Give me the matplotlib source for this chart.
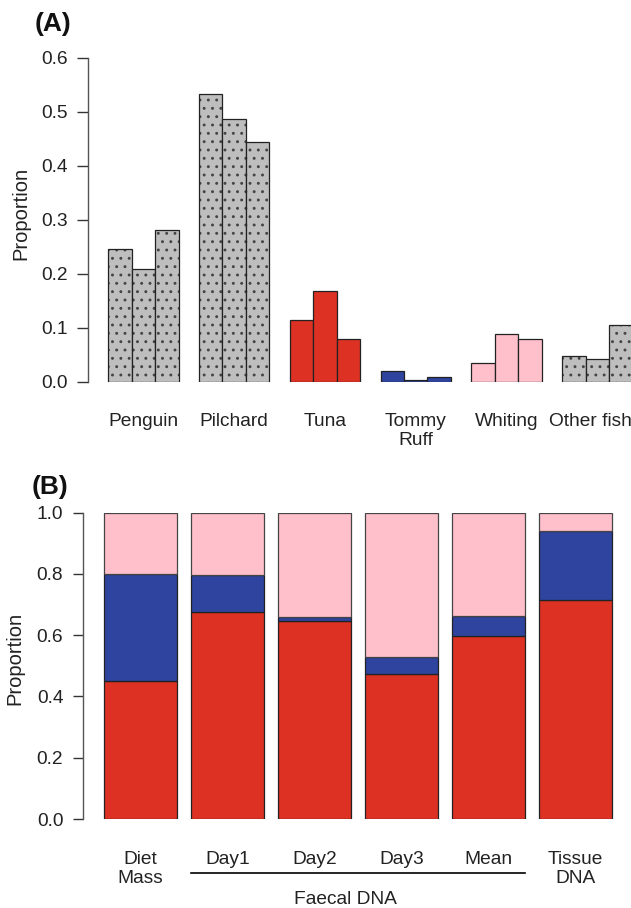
import matplotlib
matplotlib.use("Agg")
import matplotlib.pyplot as plt
import matplotlib.transforms as mtransforms
import numpy as np

plt.rcParams['font.family'] = ['Liberation Sans', 'DejaVu Sans']
plt.rcParams['hatch.linewidth'] = 0.9

# panel A: proportion of each prey, three faecal samples per prey
prey = ['Penguin', 'Pilchard', 'Tuna', 'Tommy\nRuff', 'Whiting', 'Other fish']
day1 = [0.247, 0.534, 0.114, 0.020, 0.036, 0.049]
day2 = [0.209, 0.487, 0.169, 0.004, 0.089, 0.043]
day3 = [0.282, 0.444, 0.080, 0.010, 0.079, 0.105]
a_ticks = [0.0, 0.1, 0.2, 0.3, 0.4, 0.5, 0.6]

# panel B: stacked composition (tuna / tommy ruff / whiting)
sources = ['Diet\nMass', 'Day1', 'Day2', 'Day3', 'Mean', 'Tissue\nDNA']
tuna = [0.452, 0.677, 0.645, 0.472, 0.599, 0.716]
tommy = [0.349, 0.121, 0.016, 0.058, 0.065, 0.223]
whiting = [0.199, 0.202, 0.339, 0.470, 0.336, 0.061]
b_ticks = [0.0, 0.2, 0.4, 0.6, 0.8, 1.0]

RED = '#DD3124'
BLUE = '#2E449F'
PINK = '#FFC0CB'
GREY = '#BEBEBE'
prey_col = [GREY, GREY, RED, BLUE, PINK, GREY]
prey_hatch = ['..', '..', None, None, None, '..']

FS = 13.8
W, H = 631, 908
fig = plt.figure(figsize=(W / 100, H / 100), dpi=100)


def px_axes(left, top, right, bottom):
    return fig.add_axes([left / W, 1 - bottom / H, (right - left) / W, (bottom - top) / H])


def style_axis(ax, ticks, tlen, tpad, xpad):
    for s in ['top', 'right', 'bottom']:
        ax.spines[s].set_visible(False)
    ax.spines['left'].set_color('#555555')
    ax.spines['left'].set_linewidth(1.0)
    ax.set_yticks(ticks)
    ax.set_yticklabels(['%.1f' % t for t in ticks])
    ax.tick_params(axis='y', length=tlen, width=1.0, color='#333333', pad=tpad,
                   labelsize=FS, labelcolor='#222222')
    ax.tick_params(axis='x', length=0, pad=xpad, labelsize=FS, labelcolor='#222222')


# ---- panel A ----
axA = px_axes(88, 58, 631, 382)
gap = 0.88
series = [day1, day2, day3]
for g in range(len(prey)):
    for j, s in enumerate(series):
        x0 = g * (3 + gap) + j
        if prey_hatch[g]:
            # dotted fill, dots in dark grey
            axA.bar(x0, s[g], width=1, align='edge', color=prey_col[g],
                    edgecolor='#444444', linewidth=0, hatch=prey_hatch[g])
            axA.bar(x0, s[g], width=1, align='edge', fill=False,
                    edgecolor='#222222', linewidth=0.9)
        else:
            axA.bar(x0, s[g], width=1, align='edge', color=prey_col[g],
                    edgecolor='#222222', linewidth=0.9)
axA.set_xlim(-0.868, 22.34)
axA.set_ylim(0, 0.6)
axA.set_xticks([g * (3 + gap) + 1.5 for g in range(len(prey))])
axA.set_xticklabels(prey, linespacing=1.2)
style_axis(axA, a_ticks, 8, 6.5, 22)
# last label sits against the right edge, nudge it in a bit
last = axA.get_xticklabels()[-1]
last.set_transform(last.get_transform() +
                   mtransforms.ScaledTranslation(-0.07, 0, fig.dpi_scale_trans))

# ---- panel B ----
axB = px_axes(83.3, 512.7, 631, 819)
xs = np.arange(len(sources)) * 1.2
bottom2 = np.array(tuna) + np.array(tommy)
axB.bar(xs, tuna, width=1, align='edge', color=RED, edgecolor='#222222', linewidth=0.9)
axB.bar(xs, tommy, width=1, align='edge', bottom=tuna, color=BLUE,
        edgecolor='#222222', linewidth=0.9)
axB.bar(xs, whiting, width=1, align='edge', bottom=bottom2, color=PINK,
        edgecolor='#444444', linewidth=0.9)
axB.set_xlim(-0.29, 7.265)
axB.set_ylim(0, 1.0)
axB.set_xticks(xs + 0.5)
axB.set_xticklabels(sources, linespacing=1.15)
style_axis(axB, b_ticks, 7.2, 7.2, 23)

# bracket for the faecal DNA samples
axB.plot([xs[1], xs[4] + 1], [-0.177, -0.177], color='black', lw=1.2, clip_on=False)
fig.text(345 / W, 1 - 899 / H, 'Faecal DNA', ha='center', va='center',
         fontsize=FS, color='#222222')

fig.text(20.5 / W, 1 - 213 / H, 'Proportion', rotation=90, ha='center', va='center',
         fontsize=14.5, color='#222222')
fig.text(15 / W, 1 - 658 / H, 'Proportion', rotation=90, ha='center', va='center',
         fontsize=14.5, color='#222222')

fig.text(35 / W, 1 - 24 / H, '(A)', ha='left', va='center', fontsize=19,
         fontweight='bold', color='#111111')
fig.text(32 / W, 1 - 487 / H, '(B)', ha='left', va='center', fontsize=19,
         fontweight='bold', color='#111111')

fig.savefig('out.png', dpi=100)
